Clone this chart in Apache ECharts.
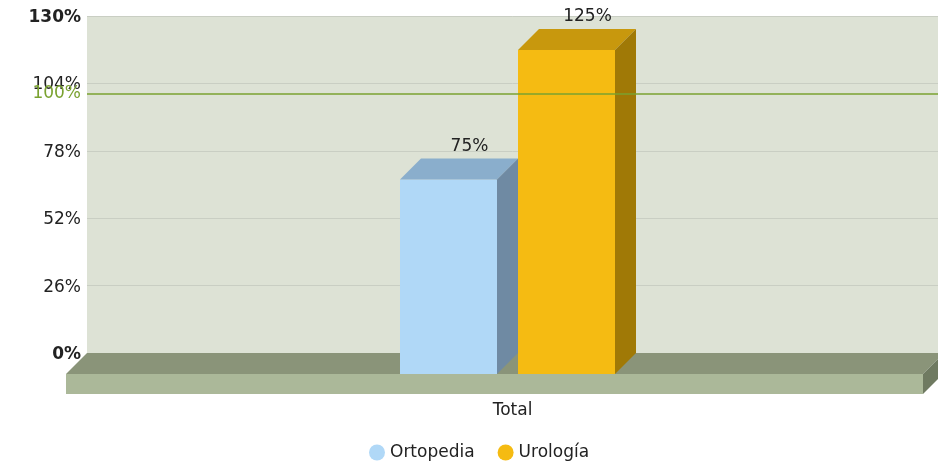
<!DOCTYPE html>
<html><head><meta charset="utf-8">
<script src="https://cdn.jsdelivr.net/npm/echarts@6/dist/echarts.min.js"></script>
<style>html,body{margin:0;padding:0;background:#fff}#c{width:938px;height:467px}</style>
</head><body><div id="c"></div>
<script>
const categories = ['Total'];
const seriesNames = ['Ortopedia', 'Urología'];
const ortopedia = [75];
const urologia = [125];
const yTicks = [0, 26, 52, 78, 104, 130];
const targetValue = 100;

const FONT = 'DejaVu Sans, Verdana, sans-serif';
const palettes = [
  {front: '#b0d8f7', top: '#8aaecc', side: '#6f8aa3'},
  {front: '#f5bb12', top: '#c8980d', side: '#a07906'}
];
const BW = 97, D = 21, STEP = 118, OFF = 91.5;

function barRender(idx) {
  return function (params, api) {
    const v = api.value(1);
    const top = api.coord([api.value(0), v]);
    const base = api.coord([api.value(0), 0]);
    const bl = top[0] - OFF + idx * STEP;
    const p = palettes[idx];
    const ty = top[1], by = base[1];
    return {
      type: 'group',
      children: [
        {type: 'rect', shape: {x: bl - D, y: ty + D, width: BW, height: by - ty}, style: {fill: p.front}},
        {type: 'polygon', shape: {points: [[bl, ty], [bl + BW, ty], [bl + BW - D, ty + D], [bl - D, ty + D]]}, style: {fill: p.top}},
        {type: 'polygon', shape: {points: [[bl + BW, ty], [bl + BW, by], [bl + BW - D, by + D], [bl + BW - D, ty + D]]}, style: {fill: p.side}},
        {type: 'text', style: {x: bl + BW / 2, y: ty - 12, text: api.value(1) + '%', fill: '#222', font: '17px ' + FONT, align: 'center', verticalAlign: 'middle'}}
      ]
    };
  };
}

function floorRender(params, api) {
  const cs = params.coordSys;
  const y0 = api.coord([0, 0])[1];
  const xl = cs.x, xr = cs.x + cs.width + 6;
  return {
    type: 'group',
    children: [
      {type: 'polygon', shape: {points: [[xl, y0], [xr, y0], [xr - D, y0 + D], [xl - D, y0 + D]]}, style: {fill: '#8a9479'}},
      {type: 'rect', shape: {x: xl - D, y: y0 + D, width: xr - xl, height: 20}, style: {fill: '#abb899'}},
      {type: 'polygon', shape: {points: [[xr - D, y0 + D], [xr, y0], [xr, y0 + 20], [xr - D, y0 + D + 20]]}, style: {fill: '#6f7a61'}}
    ]
  };
}

const chart = echarts.init(document.getElementById('c'), null, {renderer: 'canvas'});
chart.setOption({
  animation: false,
  textStyle: {fontFamily: FONT},
  grid: {left: 87, right: 0, top: 16, bottom: 114, show: true, backgroundColor: '#dde2d5', borderWidth: 0},
  legend: {
    data: seriesNames, top: 444, left: 369, padding: 0, icon: 'circle', itemWidth: 16, itemHeight: 16, itemGap: 23,
    textStyle: {fontSize: 17, color: '#222', fontFamily: FONT, padding: [14, 0, 0, 0]}
  },
  xAxis: {
    type: 'category', data: categories,
    axisLine: {show: false}, axisTick: {show: false},
    axisLabel: {margin: 49, fontSize: 17, color: '#222', fontFamily: FONT}
  },
  yAxis: {
    type: 'value', min: yTicks[0], max: yTicks[yTicks.length - 1], interval: yTicks[1] - yTicks[0],
    axisLine: {show: false}, axisTick: {show: false},
    splitLine: {lineStyle: {color: '#c9cec3', width: 1}},
    axisLabel: {
      margin: 6, fontSize: 17, color: '#222', fontFamily: FONT, padding: [3, 0, 0, 0],
      formatter: function (v) { return (v === yTicks[0] || v === yTicks[yTicks.length - 1]) ? '{b|' + v + '%}' : v + '%'; },
      rich: {b: {fontWeight: 'bold', fontSize: 17, color: '#222', fontFamily: FONT}}
    }
  },
  series: [
    {type: 'custom', coordinateSystem: 'cartesian2d', renderItem: floorRender, data: [[0, 0]], z: 1, clip: false, silent: true},
    {type: 'custom', name: seriesNames[0], coordinateSystem: 'cartesian2d', renderItem: barRender(0), data: ortopedia.map((v, i) => [i, v]), itemStyle: {color: palettes[0].front}, z: 3, clip: false},
    {type: 'custom', name: seriesNames[1], coordinateSystem: 'cartesian2d', renderItem: barRender(1), data: urologia.map((v, i) => [i, v]), itemStyle: {color: palettes[1].front}, z: 3, clip: false},
    {
      type: 'line', data: [], z: 10,
      markLine: {
        silent: true, symbol: 'none',
        lineStyle: {color: '#7aa230', width: 1.5, type: 'solid'},
        label: {position: 'start', formatter: targetValue + '%', color: '#7aa230', fontSize: 17, fontFamily: FONT, distance: 6, padding: [3, 0, 0, 0]},
        data: [{yAxis: targetValue}]
      }
    }
  ]
});
</script></body></html>
